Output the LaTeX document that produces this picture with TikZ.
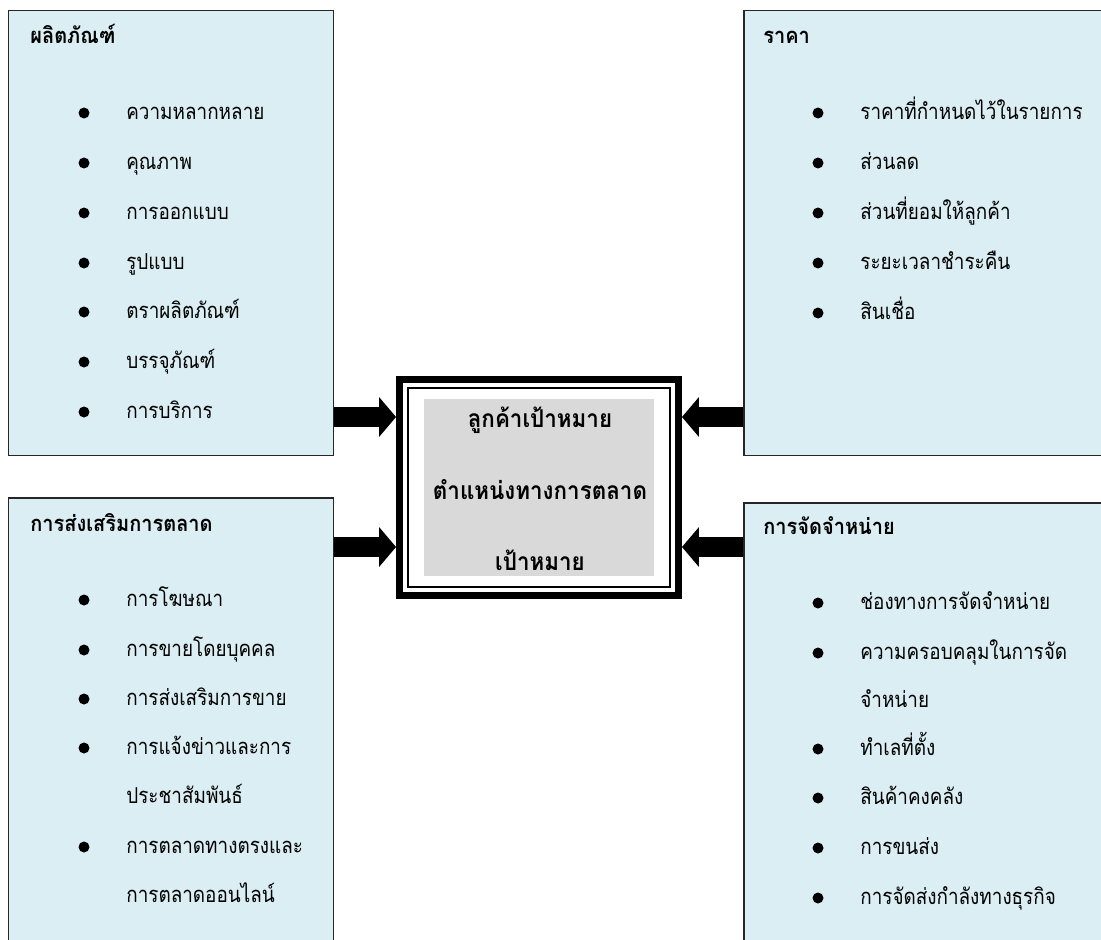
\documentclass[tikz,border=0pt]{standalone}
\usepackage{fontspec}
\newfontfamily\thaifont[Script=Thai, FakeStretch=0.86]{Loma}
\newfontfamily\thaihead[Script=Thai, FakeStretch=0.91]{Loma}
\usetikzlibrary{arrows.meta}

\definecolor{boxblue}{HTML}{DAEEF3}
\definecolor{coregray}{HTML}{D9D9D9}

\tikzset{
  mixbox/.style={rectangle, draw=black!85, line width=0.03cm, fill=boxblue, anchor=north west},
  headtext/.style={anchor=west, inner sep=0pt, text height=0.26cm, text depth=0pt,
    font=\thaihead\bfseries\fontsize{12.5}{15}\selectfont},
  itemtext/.style={anchor=west, inner sep=0pt, text height=0.26cm, text depth=0pt,
    font=\thaifont\fontsize{12.5}{15}\selectfont},
  goaltext/.style={inner sep=0pt, text height=0.3cm, text depth=0pt,
    font=\thaihead\bfseries\fontsize{14}{17}\selectfont},
  dot/.style={circle, fill=black, inner sep=0pt, minimum size=0.22cm},
  fatarrow/.style={line width=0.4cm, -{Triangle[width=0.8cm, length=0.34cm, line width=0pt]}}
}

\begin{document}
\begin{tikzpicture}[x=0.02cm, y=-0.02cm]
\useasboundingbox (0,0) rectangle (1101,939);
\clip (0,0) rectangle (1101,939);

% the four boxes
\node[mixbox, minimum width=6.5cm, minimum height=8.9cm] (prod) at (8,10) {};
\node[mixbox, minimum width=7.4cm, minimum height=8.9cm] (price) at (743,10) {};
\node[mixbox, minimum width=6.5cm, minimum height=9.4cm] (promo) at (8,497) {};
\node[mixbox, minimum width=7.4cm, minimum height=9.4cm] (place) at (743,502) {};

% the centre
\node[draw, line width=0.14cm, fill=white,
	minimum width=5.58cm,
	minimum height=4.32cm] (core) at (539,487.5) {};
\node[draw, line width=0.04cm,
	minimum width=5.26cm,
	minimum height=4cm] (coreline) at (core.center) {};
\node[fill=coregray,
	minimum width=4.6cm,
	minimum height=3.54cm] (goal) at (core.center) {};
\node[goaltext] (goal1) at (540,420) {ลูกค้าเป้าหมาย};
\node[goaltext] (goal2) at (540,492) {ตำแหน่งทางการตลาด};
\node[goaltext] (goal3) at (540,563) {เป้าหมาย};

% arrows into the centre
\coordinate (a1) at (0,417);
\coordinate (a2) at (0,547);
\draw[fatarrow] (prod.east |- a1) -- (core.west |- a1);
\draw[fatarrow] (promo.east |- a2) -- (core.west |- a2);
\draw[fatarrow] (price.west |- a1) -- (core.east |- a1);
\draw[fatarrow] (place.west |- a2) -- (core.east |- a2);

% headings
\node[headtext] (prodhead) at (30,37) {ผลิตภัณฑ์};
\node[headtext] (pricehead) at (763,37) {ราคา};
\node[headtext] (promohead) at (30,525) {การส่งเสริมการตลาด};
\node[headtext] (placehead) at (763,528) {การจัดจำหน่าย};

% product
\foreach \y/\t in {113/ความหลากหลาย, 163/คุณภาพ, 213/การออกแบบ, 263/รูปแบบ,
	312/ตราผลิตภัณฑ์, 362/บรรจุภัณฑ์, 412/การบริการ} {
  \node[dot] (proddot\y) at (84,\y) {};
  \node[itemtext] (proditem\y) at (126,\y) {\t};
}

% price
\foreach \y/\t in {113/ราคาที่กำหนดไว้ในรายการ, 163/ส่วนลด, 213/ส่วนที่ยอมให้ลูกค้า,
	263/ระยะเวลาชำระคืน, 313/สินเชื่อ} {
  \node[dot] (pricedot\y) at (818,\y) {};
  \node[itemtext] (priceitem\y) at (860,\y) {\t};
}

% promotion
\foreach \y/\t in {600/การโฆษณา, 650/การขายโดยบุคคล, 699/การส่งเสริมการขาย,
	748/การแจ้งข่าวและการ, 847/การตลาดทางตรงและ} {
  \node[dot] (promodot\y) at (84,\y) {};
  \node[itemtext] (promoitem\y) at (126,\y) {\t};
}
\node[itemtext] (promoitem797) at (126,797) {ประชาสัมพันธ์};
\node[itemtext] (promoitem896) at (126,896) {การตลาดออนไลน์};

% place
\foreach \y/\t in {603/ช่องทางการจัดจำหน่าย, 653/ความครอบคลุมในการจัด, 749/ทำเลที่ตั้ง,
	798/สินค้าคงคลัง, 848/การขนส่ง, 898/การจัดส่งกำลังทางธุรกิจ} {
  \node[dot] (placedot\y) at (818,\y) {};
  \node[itemtext] (placeitem\y) at (860,\y) {\t};
}
\node[itemtext] (placeitem701) at (860,701) {จำหน่าย};
\end{tikzpicture}
\end{document}
